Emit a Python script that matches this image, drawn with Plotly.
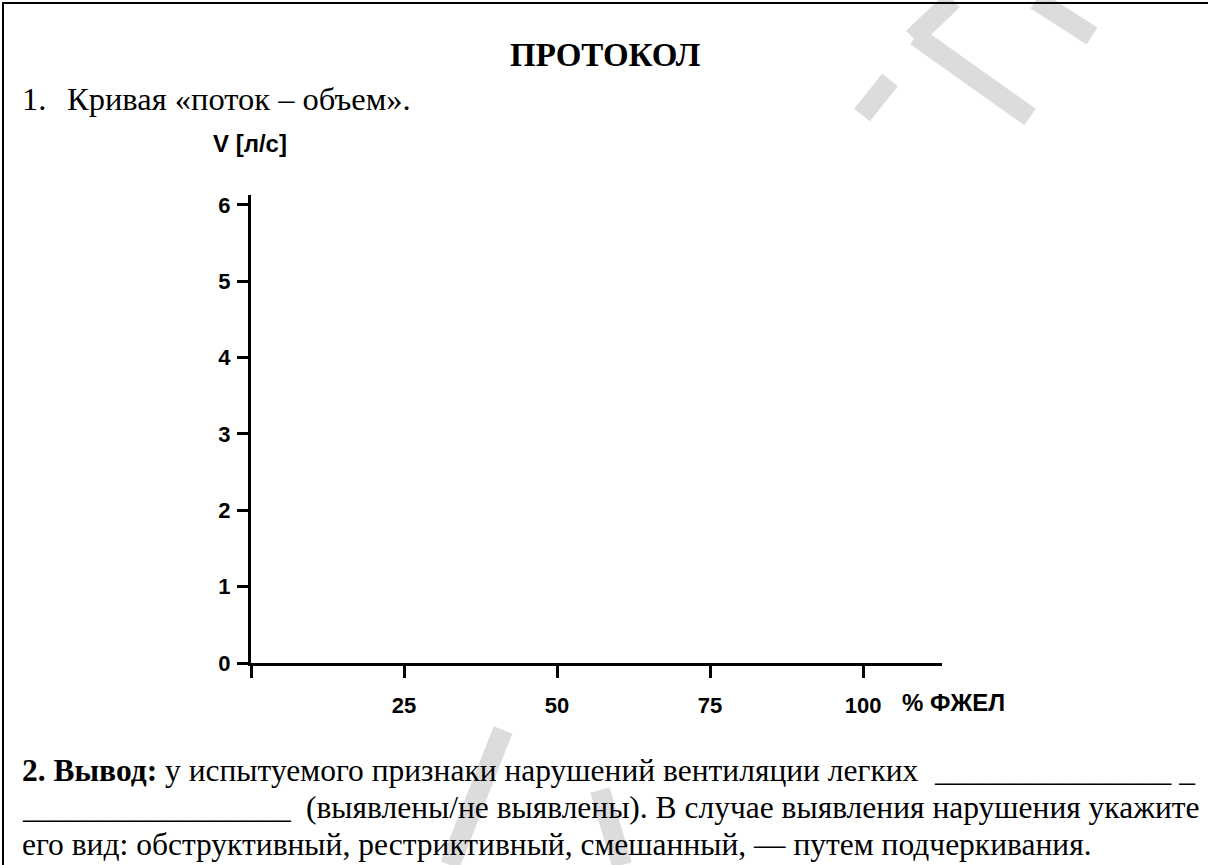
import plotly.graph_objects as go

# ---- data (axis scales; the chart is an empty template) ----
x_tick_values = [0, 25, 50, 75, 100]
x_tick_labels = ["", "25", "50", "75", "100"]
y_tick_values = [0, 1, 2, 3, 4, 5, 6]
y_tick_labels = ["0", "1", "2", "3", "4", "5", "6"]
x_range = [0, 112.9]
y_range = [0, 6.13]
x_title = "% ФЖЕЛ"
y_title = "V [л/с]"
heading = "ПРОТОКОЛ"
item1_num = "1."
item1_text = "Кривая «поток – объем»."
concl_line1 = "<b>2. Вывод:</b> у испытуемого признаки нарушений вентиляции легких"
concl_line1_blank = "_______________ _"
concl_line2_blank = "_________________"
concl_line2 = "(выявлены/не выявлены). В случае выявления нарушения укажите"
concl_line3 = "его вид: обструктивный, рестриктивный, смешанный, — путем подчеркивания."

W, H = 1208, 865
L, R, T, B = 251, 942, 195, 663  # plot area in pixels

def px(xp):
    return (xp - L) / (R - L)

def py(yp):
    return (B - yp) / (B - T)

axis_font = dict(family="Liberation Sans, Arial, sans-serif", size=22, color="black", weight="bold")
title_font = dict(family="Liberation Sans, Arial, sans-serif", size=24, color="black")
serif = "Liberation Serif, Times New Roman, serif"
body = dict(family=serif, size=31.5, color="black")
item = dict(family=serif, size=32.5, color="black")

fig = go.Figure()
fig.add_trace(go.Scatter(x=[], y=[], mode="lines", showlegend=False))

shapes = []
wm = "#dcdcdc"
for (x0, y0, x1, y1) in [(953, 0, 913, 38), (916, 36, 1030, 117), (1036, 0, 1092, 36),
                         (890, 80, 862, 115), (503, 730, 450, 865), (600, 790, 622, 865)]:
    shapes.append(dict(type="line", xref="paper", yref="paper", x0=px(x0), y0=py(y0), x1=px(x1), y1=py(y1),
                       line=dict(color=wm, width=20), layer="below"))
shapes.append(dict(type="line", xref="paper", yref="paper", x0=px(2), y0=py(3), x1=px(1208), y1=py(3),
                   line=dict(color="black", width=2)))
shapes.append(dict(type="line", xref="paper", yref="paper", x0=px(3), y0=py(2), x1=px(3), y1=py(865),
                   line=dict(color="black", width=2)))

annotations = [
    dict(text=f"<b>{heading}</b>", x=px(605), y=py(55), xanchor="center", yanchor="middle",
         font=dict(family=serif, size=33, color="black")),
    dict(text=item1_num, x=px(20), y=py(99), xanchor="left", yanchor="middle", font=item),
    dict(text=item1_text, x=px(65), y=py(99), xanchor="left", yanchor="middle", font=item),
    dict(text=f"<b>{y_title}</b>", x=px(211), y=py(144), xanchor="left", yanchor="middle", font=title_font),
    dict(text=f"<b>{x_title}</b>", x=px(900), y=py(702), xanchor="left", yanchor="middle", font=title_font),
    dict(text=concl_line1, x=px(20), y=py(770), xanchor="left", yanchor="middle", font=body),
    dict(text=concl_line1_blank, x=px(1197), y=py(770), xanchor="right", yanchor="middle", font=body),
    dict(text=concl_line2_blank, x=px(20), y=py(807), xanchor="left", yanchor="middle", font=body),
    dict(text=concl_line2, x=px(1202), y=py(807), xanchor="right", yanchor="middle", font=body),
    dict(text=concl_line3, x=px(20), y=py(844), xanchor="left", yanchor="middle", font=body),
]
for a in annotations:
    a.update(xref="paper", yref="paper", showarrow=False)

fig.update_layout(
    width=W, height=H,
    margin=dict(l=L, r=W - R, t=T, b=H - B, autoexpand=False),
    paper_bgcolor="white", plot_bgcolor="white",
    shapes=shapes, annotations=annotations,
    xaxis=dict(range=x_range, tickmode="array", tickvals=x_tick_values, ticktext=x_tick_labels,
               showgrid=False, zeroline=False, showline=True, linecolor="black", linewidth=3,
               ticks="outside", ticklen=12, tickwidth=3, tickcolor="black", tickfont=axis_font,
               ticklabelstandoff=9, fixedrange=True),
    yaxis=dict(range=y_range, tickmode="array", tickvals=y_tick_values, ticktext=y_tick_labels,
               showgrid=False, zeroline=False, showline=True, linecolor="black", linewidth=3,
               ticks="outside", ticklen=11, tickwidth=3, tickcolor="black", tickfont=axis_font,
               ticklabelstandoff=2, fixedrange=True),
    showlegend=False,
)

fig.write_html("out.html", config={"displayModeBar": False},
               post_script="document.body.style.margin='0';document.body.style.overflow='hidden';")
